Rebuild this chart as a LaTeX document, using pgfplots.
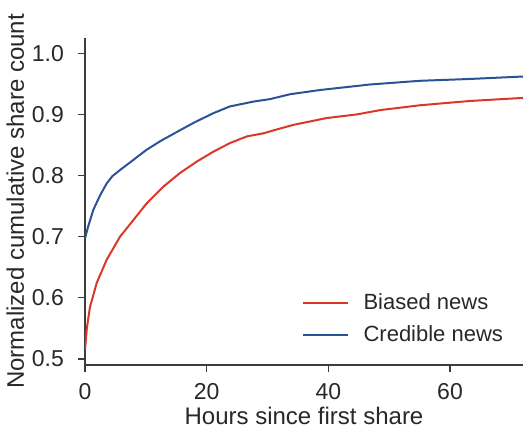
\documentclass[border=0pt]{standalone}
\usepackage{fontspec}
\setmainfont{Liberation Sans}
\usepackage{pgfplots}
\pgfplotsset{compat=1.18}
\definecolor{txt}{RGB}{40,40,40}
\definecolor{axc}{RGB}{60,60,60}
\definecolor{redc}{RGB}{218,56,38}
\definecolor{bluec}{RGB}{42,82,150}
\begin{document}
\begin{tikzpicture}
\begin{axis}[
  scale only axis,
  width=219pt, height=163.5pt,
  xmin=0, xmax=72, ymin=0.49, ymax=1.025,
  axis x line*=bottom, axis y line*=left,
  axis line style={axc, line width=0.7pt},
  tick style={axc, line width=0.7pt},
  tick align=outside, major tick length=3.5pt,
  xtick={0,20,40,60}, ytick={0.5,0.6,0.7,0.8,0.9,1.0},
  yticklabel style={/pgf/number format/.cd, fixed, fixed zerofill, precision=1},
  /pgf/number format/assume math mode=true,
  xticklabel shift=2pt, yticklabel shift=3.5pt,
  ticklabel style={font=\fontsize{11.5}{14}\selectfont, text=txt},
  label style={font=\fontsize{12}{14}\selectfont, text=txt},
  xlabel={Hours since first share},
  ylabel={Normalized cumulative share count},
  xlabel style={yshift=3pt},
  ylabel style={yshift=-3pt},
  legend style={draw=none, fill=none, at={(0.978,0.036)}, anchor=south east,
    font=\fontsize{11}{13}\selectfont, text=txt, row sep=2.5pt,
    legend cell align=left},
  legend image code/.code={\draw[#1] (0pt,0pt) -- (22.5pt,0pt); \path (28pt,0pt);},
]
\addplot[redc, line width=1pt] coordinates {
(0,0.514) (0.3,0.55) (0.82,0.585) (1.92,0.624) (3.55,0.662) (5.76,0.700) (7.94,0.727)
(10.1,0.754) (12.9,0.782) (15.6,0.804) (18.4,0.823) (21.1,0.839) (23.8,0.853)
(26.6,0.864) (29.3,0.869) (32.1,0.877) (34.3,0.883) (39.7,0.894) (44.7,0.900)
(48.5,0.907) (55.1,0.915) (63.3,0.922) (72,0.927)};
\addlegendentry{Biased news}
\addplot[bluec, line width=1pt] coordinates {
(0,0.697) (0.5,0.716) (1.37,0.744) (2.5,0.768) (3.56,0.787) (4.5,0.799) (5.76,0.809)
(8,0.826) (10.1,0.842) (12.5,0.857) (15.6,0.874) (18,0.887) (21.1,0.902) (23.8,0.913)
(27.7,0.921) (30.4,0.925) (33.7,0.933) (38.7,0.940) (46.9,0.949) (55.1,0.955)
(63.3,0.958) (72,0.962)};
\addlegendentry{Credible news}
\coordinate (sw) at (rel axis cs:0,0);
\coordinate (ne) at (rel axis cs:1,1);
\end{axis}
\pgfresetboundingbox
\path ([shift={(-42.5pt,-32pt)}]sw) rectangle ([shift={(0.5pt,19pt)}]ne);
\end{tikzpicture}
\end{document}
